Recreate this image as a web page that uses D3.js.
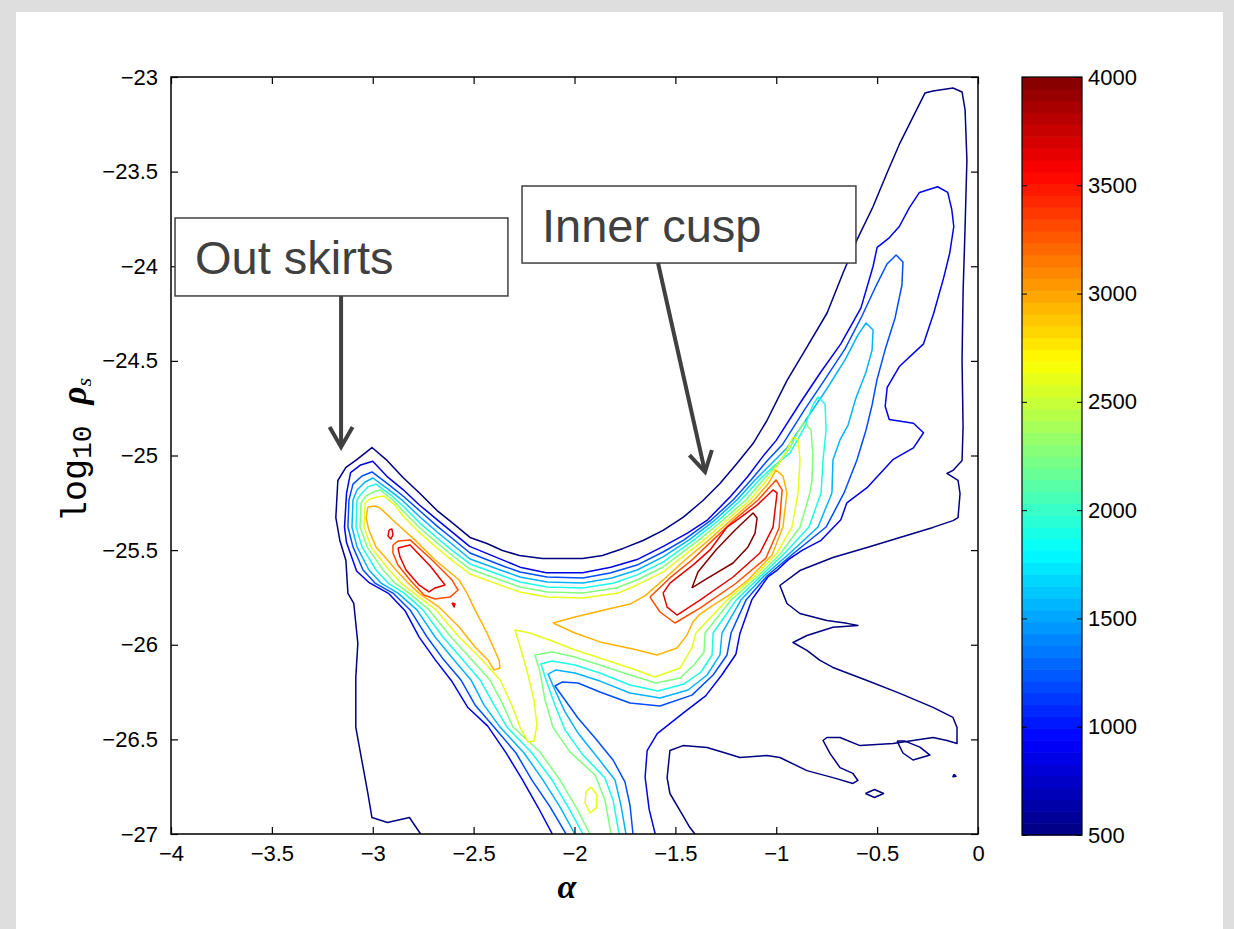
<!DOCTYPE html>
<html>
<head>
<meta charset="utf-8">
<script src="https://cdn.jsdelivr.net/npm/d3@7"></script>
<style>
  body { margin: 0; background: #fff; }
  svg { display: block; }
</style>
</head>
<body>
<main></main>
<script>
// contour levels (MATLAB jet colours, 500..4000)
const levels = [500, 850, 1200, 1550, 1900, 2250, 2600, 2950, 3300, 3650, 4000];
const xTicks = [-4, -3.5, -3, -2.5, -2, -1.5, -1, -0.5, 0];
const yTicks = [-27, -26.5, -26, -25.5, -25, -24.5, -24, -23.5, -23];
const cbTicks = [500, 1000, 1500, 2000, 2500, 3000, 3500, 4000];

// contour lines, [alpha, log10 rho_s]
const c500 = [
  [[-2.763,-27],[-2.818,-26.913],[-2.927,-26.939],[-3.004,-26.913],[-3.024,-26.786],[-3.054,-26.612],[-3.084,-26.437],[-3.084,-26.173],[-3.074,-25.993],[-3.094,-25.782],[-3.123,-25.729],[-3.133,-25.555],[-3.163,-25.449],[-3.183,-25.328],[-3.173,-25.132],[-3.133,-25.063],[-3.084,-25.026],[-3.004,-24.958],[-2.929,-25.026],[-2.850,-25.116],[-2.766,-25.201],[-2.681,-25.291],[-2.602,-25.359],[-2.518,-25.433],[-2.434,-25.465],[-2.357,-25.502],[-2.273,-25.528],[-2.159,-25.544],[-1.960,-25.544],[-1.861,-25.528],[-1.759,-25.491],[-1.660,-25.449],[-1.561,-25.396],[-1.462,-25.327],[-1.363,-25.238],[-1.279,-25.148],[-1.195,-25.042],[-1.115,-24.937],[-1.046,-24.815],[-0.947,-24.604],[-0.848,-24.427],[-0.748,-24.247],[-0.669,-24.036],[-0.600,-23.861],[-0.521,-23.687],[-0.451,-23.507],[-0.387,-23.349],[-0.322,-23.211],[-0.263,-23.085],[-0.223,-23.074],[-0.124,-23.058],[-0.079,-23.079],[-0.064,-23.174],[-0.055,-23.439],[-0.064,-23.793],[-0.074,-24.141],[-0.079,-24.495],[-0.074,-24.849],[-0.079,-25.026],[-0.124,-25.079],[-0.154,-25.095],[-0.099,-25.132],[-0.089,-25.201],[-0.099,-25.328],[-0.124,-25.344],[-0.223,-25.380],[-0.387,-25.433],[-0.550,-25.486],[-0.719,-25.539],[-0.883,-25.608],[-0.982,-25.687],[-0.947,-25.782],[-0.883,-25.835],[-0.749,-25.872],[-0.649,-25.887],[-0.595,-25.898],[-0.719,-25.908],[-0.848,-25.951],[-0.917,-25.988],[-0.848,-26.030],[-0.783,-26.083],[-0.719,-26.120],[-0.550,-26.189],[-0.387,-26.257],[-0.223,-26.331],[-0.124,-26.384],[-0.104,-26.437],[-0.104,-26.522],[-0.154,-26.506],[-0.223,-26.490],[-0.421,-26.522],[-0.585,-26.533],[-0.684,-26.490],[-0.749,-26.490],[-0.768,-26.506],[-0.733,-26.575],[-0.684,-26.649],[-0.620,-26.680],[-0.595,-26.717],[-0.620,-26.733],[-0.719,-26.702],[-0.848,-26.665],[-0.982,-26.596],[-1.046,-26.585],[-1.180,-26.596],[-1.244,-26.575],[-1.343,-26.543],[-1.462,-26.533],[-1.527,-26.559],[-1.541,-26.702],[-1.527,-26.786],[-1.477,-26.876],[-1.428,-26.966],[-1.403,-27]],
  [[-0.401,-26.509],[-0.372,-26.572],[-0.322,-26.609],[-0.238,-26.583],[-0.288,-26.541],[-0.362,-26.509],[-0.401,-26.509]],
  [[-0.558,-26.786],[-0.513,-26.765],[-0.468,-26.786],[-0.513,-26.807],[-0.558,-26.786]],
  [[-0.119,-26.685],[-0.109,-26.695],[-0.124,-26.697],[-0.119,-26.685]]
];
const c850 = [
  [[-2.11,-27],[-2.18,-26.86],[-2.26,-26.71],[-2.34,-26.57],[-2.43,-26.43],[-2.53,-26.33],[-2.61,-26.19],[-2.69,-26.08],[-2.77,-25.96],[-2.84,-25.82],[-2.92,-25.73],[-3.02,-25.67],[-3.08,-25.61],[-3.13,-25.46],[-3.14,-25.38],[-3.13,-25.20],[-3.11,-25.09],[-3.06,-25.05],[-3.00,-25.03],[-2.93,-25.11],[-2.85,-25.18],[-2.77,-25.26],[-2.68,-25.34],[-2.60,-25.41],[-2.52,-25.48],[-2.36,-25.55],[-2.27,-25.59],[-2.14,-25.62],[-1.96,-25.62],[-1.82,-25.59],[-1.69,-25.55],[-1.56,-25.48],[-1.44,-25.41],[-1.34,-25.34],[-1.23,-25.22],[-1.14,-25.11],[-1.07,-25.01],[-1.00,-24.92],[-0.88,-24.72],[-0.78,-24.56],[-0.68,-24.41],[-0.58,-24.22],[-0.52,-24.00],[-0.50,-23.90],[-0.44,-23.85],[-0.39,-23.79],[-0.34,-23.69],[-0.29,-23.61],[-0.20,-23.58],[-0.15,-23.61],[-0.13,-23.70],[-0.12,-23.79],[-0.14,-23.93],[-0.17,-24.06],[-0.22,-24.25],[-0.27,-24.41],[-0.39,-24.53],[-0.45,-24.64],[-0.46,-24.74],[-0.44,-24.81],[-0.32,-24.83],[-0.27,-24.88],[-0.32,-24.96],[-0.42,-25.02],[-0.55,-25.17],[-0.65,-25.25],[-0.68,-25.34],[-0.78,-25.45],[-0.87,-25.50],[-0.94,-25.55],[-1.00,-25.61],[-1.04,-25.64],[-1.08,-25.70],[-1.12,-25.76],[-1.15,-25.85],[-1.18,-25.94],[-1.20,-26.05],[-1.27,-26.16],[-1.35,-26.27],[-1.46,-26.36],[-1.59,-26.47],[-1.64,-26.56],[-1.65,-26.70],[-1.63,-26.87],[-1.60,-27]]
];
const c1200 = [
  [[-2.042,-27],[-2.121,-26.857],[-2.211,-26.715],[-2.290,-26.572],[-2.399,-26.435],[-2.493,-26.318],[-2.563,-26.186],[-2.647,-26.081],[-2.731,-25.959],[-2.815,-25.816],[-2.900,-25.727],[-2.989,-25.674],[-3.048,-25.605],[-3.098,-25.483],[-3.123,-25.378],[-3.118,-25.235],[-3.098,-25.151],[-3.053,-25.108],[-3.004,-25.087],[-2.924,-25.151],[-2.850,-25.214],[-2.766,-25.293],[-2.681,-25.373],[-2.602,-25.441],[-2.518,-25.515],[-2.354,-25.584],[-2.270,-25.616],[-2.136,-25.642],[-1.958,-25.647],[-1.824,-25.621],[-1.690,-25.579],[-1.561,-25.510],[-1.457,-25.446],[-1.323,-25.341],[-1.214,-25.235],[-1.125,-25.129],[-1.046,-25.029],[-0.967,-24.939],[-0.857,-24.754],[-0.758,-24.596],[-0.659,-24.437],[-0.575,-24.263],[-0.501,-24.094],[-0.451,-23.988],[-0.406,-23.941],[-0.372,-23.978],[-0.377,-24.099],[-0.411,-24.273],[-0.461,-24.443],[-0.501,-24.601],[-0.525,-24.733],[-0.555,-24.865],[-0.600,-25.024],[-0.664,-25.198],[-0.753,-25.378],[-0.912,-25.515],[-1.046,-25.637],[-1.150,-25.764],[-1.224,-25.938],[-1.244,-26.054],[-1.313,-26.160],[-1.418,-26.266],[-1.576,-26.324],[-1.725,-26.308],[-1.874,-26.250],[-1.983,-26.202],[-2.062,-26.197],[-2.097,-26.218],[-2.047,-26.292],[-1.983,-26.387],[-1.898,-26.493],[-1.809,-26.609],[-1.750,-26.725],[-1.725,-26.847],[-1.710,-27]]
];
const c1550 = [
  [[-1.998,-27],[-2.072,-26.857],[-2.156,-26.715],[-2.250,-26.572],[-2.369,-26.435],[-2.449,-26.318],[-2.513,-26.186],[-2.597,-26.081],[-2.691,-25.959],[-2.781,-25.816],[-2.875,-25.727],[-2.959,-25.674],[-3.019,-25.605],[-3.078,-25.483],[-3.103,-25.378],[-3.098,-25.235],[-3.078,-25.182],[-3.038,-25.140],[-2.999,-25.119],[-2.919,-25.182],[-2.850,-25.240],[-2.766,-25.325],[-2.681,-25.404],[-2.602,-25.473],[-2.518,-25.547],[-2.354,-25.610],[-2.270,-25.642],[-2.136,-25.668],[-1.958,-25.674],[-1.814,-25.647],[-1.690,-25.605],[-1.561,-25.536],[-1.432,-25.446],[-1.304,-25.341],[-1.195,-25.235],[-1.105,-25.129],[-1.026,-25.045],[-0.947,-24.960],[-0.853,-24.812],[-0.753,-24.654],[-0.659,-24.495],[-0.595,-24.363],[-0.555,-24.300],[-0.520,-24.337],[-0.525,-24.443],[-0.555,-24.559],[-0.605,-24.696],[-0.644,-24.839],[-0.684,-24.918],[-0.719,-25.024],[-0.724,-25.198],[-0.793,-25.378],[-0.932,-25.515],[-1.061,-25.637],[-1.175,-25.764],[-1.269,-25.938],[-1.279,-26.054],[-1.343,-26.160],[-1.437,-26.239],[-1.576,-26.281],[-1.725,-26.255],[-1.874,-26.192],[-1.998,-26.149],[-2.092,-26.133],[-2.131,-26.155],[-2.097,-26.239],[-2.047,-26.355],[-1.983,-26.466],[-1.888,-26.593],[-1.799,-26.715],[-1.770,-26.847],[-1.745,-27]]
];
const c1900 = [
  [[-1.958,-27],[-2.032,-26.857],[-2.111,-26.715],[-2.211,-26.572],[-2.335,-26.435],[-2.399,-26.318],[-2.468,-26.186],[-2.553,-26.081],[-2.652,-25.959],[-2.751,-25.816],[-2.845,-25.727],[-2.924,-25.674],[-2.984,-25.605],[-3.053,-25.483],[-3.083,-25.378],[-3.078,-25.235],[-3.058,-25.203],[-3.024,-25.166],[-2.984,-25.151],[-2.910,-25.209],[-2.850,-25.267],[-2.766,-25.357],[-2.681,-25.436],[-2.602,-25.505],[-2.518,-25.573],[-2.354,-25.637],[-2.270,-25.668],[-2.136,-25.695],[-1.958,-25.700],[-1.804,-25.674],[-1.690,-25.631],[-1.561,-25.563],[-1.408,-25.446],[-1.284,-25.341],[-1.175,-25.235],[-1.085,-25.129],[-1.006,-25.050],[-0.932,-24.987],[-0.862,-24.855],[-0.818,-24.733],[-0.793,-24.691],[-0.758,-24.728],[-0.753,-24.865],[-0.768,-25.024],[-0.778,-25.198],[-0.838,-25.378],[-0.957,-25.515],[-1.076,-25.637],[-1.199,-25.764],[-1.313,-25.938],[-1.318,-26.054],[-1.373,-26.144],[-1.457,-26.207],[-1.586,-26.244],[-1.725,-26.213],[-1.874,-26.149],[-1.998,-26.107],[-2.111,-26.086],[-2.166,-26.102],[-2.141,-26.186],[-2.097,-26.318],[-2.047,-26.450],[-1.958,-26.583],[-1.849,-26.704],[-1.809,-26.820],[-1.779,-27]]
];
const c2250 = [
  [[-1.923,-27],[-1.993,-26.857],[-2.072,-26.715],[-2.171,-26.567],[-2.305,-26.435],[-2.354,-26.318],[-2.419,-26.186],[-2.508,-26.081],[-2.612,-25.959],[-2.721,-25.816],[-2.820,-25.727],[-2.890,-25.674],[-2.949,-25.605],[-3.028,-25.483],[-3.063,-25.378],[-3.058,-25.251],[-3.033,-25.214],[-2.999,-25.193],[-2.964,-25.182],[-2.900,-25.235],[-2.850,-25.293],[-2.766,-25.383],[-2.681,-25.462],[-2.602,-25.531],[-2.518,-25.600],[-2.354,-25.663],[-2.270,-25.695],[-2.136,-25.721],[-1.958,-25.727],[-1.794,-25.700],[-1.690,-25.658],[-1.561,-25.589],[-1.383,-25.446],[-1.264,-25.341],[-1.150,-25.235],[-1.066,-25.129],[-0.986,-25.034],[-0.932,-24.960],[-0.892,-24.876],[-0.862,-24.823],[-0.828,-24.865],[-0.818,-24.997],[-0.823,-25.129],[-0.833,-25.198],[-0.882,-25.378],[-0.976,-25.515],[-1.090,-25.637],[-1.224,-25.764],[-1.353,-25.938],[-1.358,-26.038],[-1.408,-26.107],[-1.477,-26.176],[-1.596,-26.202],[-1.725,-26.160],[-1.874,-26.107],[-1.998,-26.065],[-2.111,-26.038],[-2.196,-26.054],[-2.171,-26.144],[-2.146,-26.292],[-2.107,-26.435],[-2.022,-26.567],[-1.898,-26.688],[-1.849,-26.820],[-1.819,-27]]
];
const c2600 = [
  [[-0.917,-24.902],[-0.892,-24.918],[-0.882,-25.024],[-0.892,-25.198],[-0.922,-25.378],[-0.996,-25.515],[-1.105,-25.637],[-1.244,-25.764],[-1.398,-25.938],[-1.418,-26.017],[-1.477,-26.123],[-1.601,-26.170],[-1.710,-26.128],[-1.874,-26.070],[-1.998,-26.028],[-2.111,-25.980],[-2.221,-25.938],[-2.295,-25.922],[-2.265,-26.028],[-2.230,-26.160],[-2.201,-26.292],[-2.186,-26.424],[-2.201,-26.509],[-2.230,-26.514],[-2.270,-26.435],[-2.315,-26.308],[-2.369,-26.186],[-2.458,-26.081],[-2.572,-25.959],[-2.686,-25.816],[-2.796,-25.727],[-2.860,-25.674],[-2.919,-25.605],[-3.009,-25.483],[-3.043,-25.378],[-3.038,-25.251],[-3.014,-25.230],[-2.979,-25.219],[-2.944,-25.214],[-2.890,-25.262],[-2.850,-25.320],[-2.766,-25.410],[-2.681,-25.489],[-2.602,-25.558],[-2.518,-25.626],[-2.354,-25.690],[-2.270,-25.721],[-2.136,-25.748],[-1.958,-25.753],[-1.784,-25.727],[-1.690,-25.684],[-1.561,-25.616],[-1.358,-25.446],[-1.244,-25.341],[-1.130,-25.235],[-1.046,-25.129],[-0.981,-25.034],[-0.942,-24.960],[-0.917,-24.902]],
  [[-1.918,-26.752],[-1.888,-26.794],[-1.893,-26.863],[-1.923,-26.889],[-1.948,-26.836],[-1.943,-26.778],[-1.918,-26.752]]
];
const c2950 = [
  [[-3.024,-25.272],[-2.989,-25.267],[-2.964,-25.277],[-2.885,-25.357],[-2.791,-25.446],[-2.691,-25.552],[-2.572,-25.658],[-2.533,-25.727],[-2.493,-25.816],[-2.434,-25.938],[-2.374,-26.081],[-2.369,-26.123],[-2.399,-26.133],[-2.429,-26.081],[-2.493,-26.012],[-2.572,-25.906],[-2.672,-25.801],[-2.771,-25.727],[-2.825,-25.674],[-2.885,-25.605],[-2.944,-25.531],[-2.984,-25.483],[-3.019,-25.394],[-3.033,-25.330],[-3.024,-25.272]],
  [[-2.107,-25.885],[-1.998,-25.853],[-1.874,-25.822],[-1.725,-25.785],[-1.651,-25.742],[-1.561,-25.658],[-1.452,-25.552],[-1.333,-25.446],[-1.224,-25.341],[-1.110,-25.235],[-1.041,-25.151],[-1.001,-25.077],[-0.967,-25.108],[-0.947,-25.198],[-0.967,-25.378],[-1.021,-25.526],[-1.140,-25.658],[-1.239,-25.742],[-1.318,-25.795],[-1.378,-25.838],[-1.413,-25.880],[-1.442,-25.948],[-1.492,-26.017],[-1.591,-26.054],[-1.710,-26.022],[-1.874,-25.985],[-1.998,-25.938],[-2.107,-25.885]]
];
const c3300 = [
  [[-2.900,-25.473],[-2.875,-25.452],[-2.815,-25.446],[-2.706,-25.552],[-2.607,-25.658],[-2.577,-25.711],[-2.617,-25.748],[-2.691,-25.758],[-2.746,-25.737],[-2.815,-25.658],[-2.875,-25.579],[-2.900,-25.515],[-2.900,-25.473]],
  [[-1.626,-25.748],[-1.576,-25.827],[-1.502,-25.885],[-1.378,-25.806],[-1.204,-25.679],[-1.051,-25.542],[-0.986,-25.383],[-0.971,-25.182],[-1.001,-25.129],[-1.090,-25.235],[-1.209,-25.341],[-1.313,-25.446],[-1.418,-25.552],[-1.527,-25.647],[-1.626,-25.748]]
];
const c3650 = [
  [[-2.875,-25.489],[-2.815,-25.473],[-2.711,-25.589],[-2.642,-25.684],[-2.691,-25.700],[-2.721,-25.721],[-2.771,-25.684],[-2.835,-25.605],[-2.865,-25.536],[-2.875,-25.489]],
  [[-2.919,-25.394],[-2.905,-25.388],[-2.900,-25.420],[-2.910,-25.441],[-2.924,-25.425],[-2.919,-25.394]],
  [[-2.607,-25.779],[-2.592,-25.784],[-2.597,-25.800],[-2.607,-25.779]],
  [[-1.561,-25.727],[-1.541,-25.801],[-1.492,-25.843],[-1.378,-25.764],[-1.214,-25.642],[-1.081,-25.515],[-1.016,-25.378],[-0.996,-25.198],[-1.016,-25.182],[-1.095,-25.262],[-1.180,-25.330],[-1.244,-25.378],[-1.328,-25.499],[-1.413,-25.579],[-1.527,-25.674],[-1.561,-25.727]]
];
const c4000 = [
  [[-1.418,-25.700],[-1.388,-25.616],[-1.299,-25.499],[-1.204,-25.394],[-1.115,-25.304],[-1.095,-25.330],[-1.105,-25.410],[-1.140,-25.483],[-1.214,-25.568],[-1.348,-25.653],[-1.418,-25.700]]
];

// annotations: box [x0, y0, x1, y1] and arrow [x0, y0, x1, y1] in data units
const noteText = ["Out skirts", "Inner cusp"];
const noteBox = [[-3.98, -23.745, -2.33, -24.157], [-2.26, -23.576, -0.605, -23.983]];
const noteArrow = [[-3.157, -24.157, -3.157, -24.955], [-1.586, -23.983, -1.353, -25.087]];

const contours = [c500, c850, c1200, c1550, c1900, c2250, c2600, c2950, c3300, c3650, c4000]
  .map((paths, i) => ({ level: levels[i], paths }));

const W = 1234, H = 929;
const svg = d3.select("main").append("svg").attr("width", W).attr("height", H).attr("viewBox", `0 0 ${W} ${H}`);

// slide background
svg.append("rect").attr("width", W).attr("height", H).attr("fill", "#dedede");
svg.append("rect").attr("x", 16).attr("y", 12).attr("width", 1207).attr("height", H - 12).attr("fill", "#fff");

const x = d3.scaleLinear().domain([-4, 0]).range([171, 978]);
const y = d3.scaleLinear().domain([-27, -23]).range([834, 77]);
const jet = d3.scaleLinear()
  .domain([0, 0.125, 0.375, 0.625, 0.875, 1])
  .range(["#000080", "#0000ff", "#00ffff", "#ffff00", "#ff0000", "#800000"]);
const colorOf = v => jet((v - 500) / 3500);

svg.append("clipPath").attr("id", "plotclip")
  .append("rect").attr("x", 171).attr("y", 77).attr("width", 807).attr("height", 757);

const line = d3.line().x(d => x(d[0])).y(d => y(d[1]));

const g = svg.append("g").attr("clip-path", "url(#plotclip)");
g.selectAll("g")
  .data(contours)
  .join("g")
  .attr("stroke", d => colorOf(d.level))
  .selectAll("path")
  .data(d => d.paths)
  .join("path")
  .attr("fill", "none")
  .attr("stroke-width", 1.5)
  .attr("stroke-linejoin", "round")
  .attr("d", line);

// axes
const tickFont = g => g.selectAll("text")
  .style("font-family", "'Liberation Sans', Arial, sans-serif")
  .style("font-size", "22px")
  .attr("fill", "#000");
const fmt = d3.format("");

svg.append("g").attr("transform", "translate(0,834)")
  .call(d3.axisBottom(x).tickValues(xTicks).tickFormat(fmt).tickSizeInner(-7).tickSizeOuter(0).tickPadding(11))
  .call(g => g.select(".domain").remove())
  .call(tickFont);
svg.append("g").attr("transform", "translate(0,77)")
  .call(d3.axisTop(x).tickValues(xTicks).tickFormat("").tickSizeInner(-7).tickSizeOuter(0))
  .call(g => g.select(".domain").remove());
svg.append("g").attr("transform", "translate(171,0)")
  .call(d3.axisLeft(y).tickValues(yTicks).tickFormat(fmt).tickSizeInner(-7).tickSizeOuter(0).tickPadding(13))
  .call(g => g.select(".domain").remove())
  .call(tickFont);
svg.append("g").attr("transform", "translate(978,0)")
  .call(d3.axisRight(y).tickValues(yTicks).tickFormat("").tickSizeInner(-7).tickSizeOuter(0))
  .call(g => g.select(".domain").remove());
svg.selectAll(".tick line").attr("stroke", "#000").attr("stroke-width", 1.2);

svg.append("rect").attr("x", 171).attr("y", 77).attr("width", 807).attr("height", 757)
  .attr("fill", "none").attr("stroke", "#000").attr("stroke-width", 1.5);

// axis labels
svg.append("text").attr("x", 567).attr("y", 898).attr("text-anchor", "middle")
  .style("font-family", "'Liberation Serif', 'DejaVu Serif', serif").style("font-style", "italic")
  .style("font-weight", "bold").style("font-size", "34px").text("α");

const yl = svg.append("text").attr("transform", "translate(86,450) rotate(-90)").attr("text-anchor", "middle")
  .style("font-family", "'Liberation Mono', 'DejaVu Sans Mono', monospace").style("font-size", "35px");
yl.append("tspan").text("log");
yl.append("tspan").attr("dy", 5).style("font-size", "28px").text("10");
yl.append("tspan").attr("dy", -5).text(" ");
yl.append("tspan").style("font-family", "'Liberation Serif', serif").style("font-style", "italic")
  .style("font-weight", "bold").text("ρ");
yl.append("tspan").attr("dy", 5).style("font-family", "'Liberation Serif', serif")
  .style("font-style", "italic").style("font-size", "22px").text("s");

// colorbar
const cb = d3.scaleLinear().domain([500, 4000]).range([835, 77]);
const nBands = 64, step = 3500 / nBands;
const bands = d3.range(nBands).map(i => 500 + i * step);
svg.append("g").selectAll("rect")
  .data(bands)
  .join("rect")
  .attr("x", 1022).attr("width", 60)
  .attr("y", d => cb(d + step))
  .attr("height", cb(500) - cb(500 + step) + 0.6)
  .attr("fill", d => colorOf(d + step / 2));
svg.append("rect").attr("x", 1022).attr("y", 77).attr("width", 60).attr("height", 758)
  .attr("fill", "none").attr("stroke", "#000").attr("stroke-width", 1.2);
svg.append("g").attr("transform", "translate(1082,0)")
  .call(d3.axisRight(cb).tickValues(cbTicks).tickFormat(fmt).tickSizeInner(-5).tickSizeOuter(0).tickPadding(6))
  .call(g => g.select(".domain").remove())
  .call(tickFont);
svg.append("g").attr("transform", "translate(1022,0)")
  .call(d3.axisLeft(cb).tickValues(cbTicks).tickFormat("").tickSizeInner(-5).tickSizeOuter(0))
  .call(g => g.select(".domain").remove());

// annotations
const ink = "#404040";
noteBox.forEach((b, i) => {
  const x0 = x(b[0]), y0 = y(b[1]), x1 = x(b[2]), y1 = y(b[3]);
  svg.append("rect").attr("x", x0).attr("y", y0).attr("width", x1 - x0).attr("height", y1 - y0)
    .attr("fill", "#fff").attr("stroke", ink).attr("stroke-width", 1.5);
  svg.append("text").attr("x", x0 + 20).attr("y", y0 + 56)
    .style("font-family", "'Liberation Sans', Arial, sans-serif").style("font-size", "47px")
    .attr("fill", ink).text(noteText[i]);
});
noteArrow.forEach(a => {
  const sx = x(a[0]), sy = y(a[1]), tx = x(a[2]), ty = y(a[3]);
  const ang = Math.atan2(ty - sy, tx - sx), len = 23, spread = Math.PI / 6;
  svg.append("line").attr("x1", sx).attr("y1", sy).attr("x2", tx - 2 * Math.cos(ang)).attr("y2", ty - 2 * Math.sin(ang))
    .attr("stroke", ink).attr("stroke-width", 4);
  svg.append("path")
    .attr("d", `M${tx - len * Math.cos(ang - spread)},${ty - len * Math.sin(ang - spread)}L${tx},${ty}L${tx - len * Math.cos(ang + spread)},${ty - len * Math.sin(ang + spread)}`)
    .attr("fill", "none").attr("stroke", ink).attr("stroke-width", 4).attr("stroke-linejoin", "miter");
});
</script>
</body>
</html>
